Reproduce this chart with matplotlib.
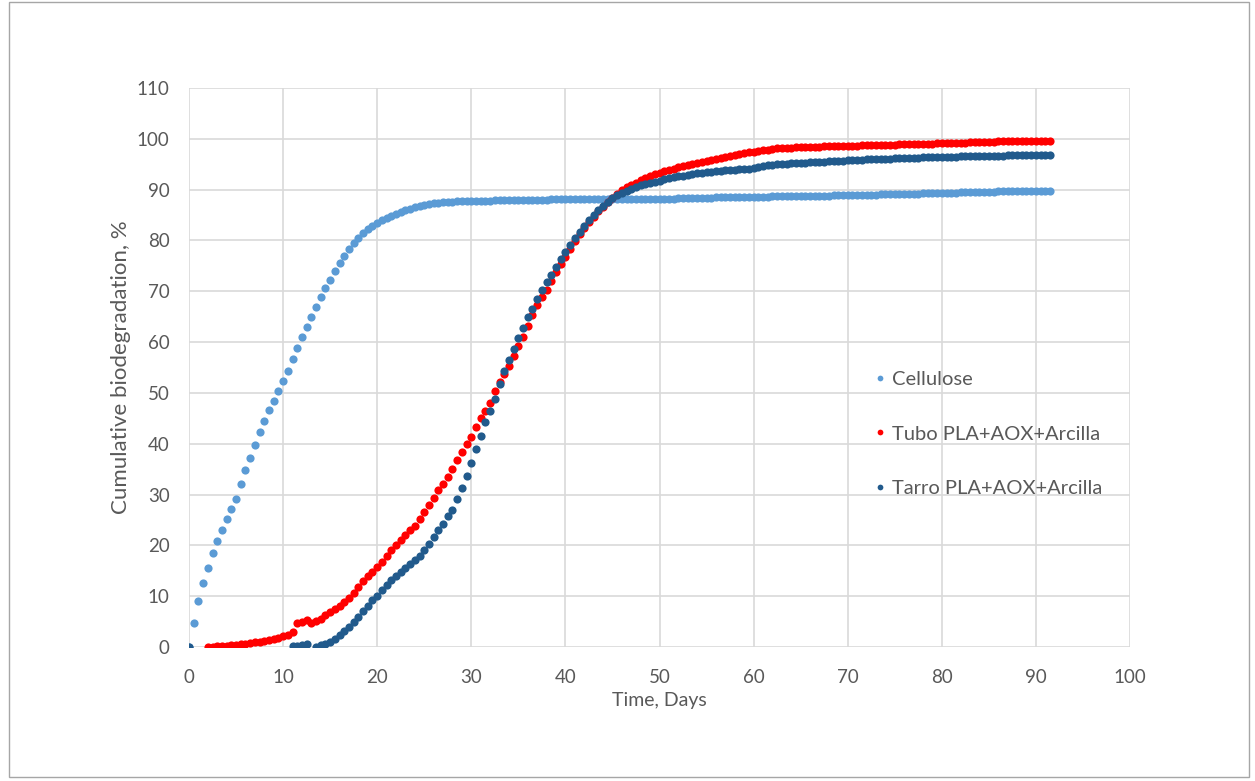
import numpy as np
import matplotlib.pyplot as plt
from matplotlib.patches import Rectangle

plt.rcParams['font.family'] = ['Lato', 'DejaVu Sans']

# readings every half day
cellulose_days = np.arange(0, 92, 0.5)
cellulose = [
    0.0, 4.7, 9.0, 12.6, 15.6, 18.4, 20.8, 23.0, 25.2, 27.2,
    29.2, 32.1, 34.8, 37.2, 39.7, 42.4, 44.5, 46.6, 48.4, 50.3,
    52.4, 54.4, 56.7, 58.9, 61.0, 63.0, 64.9, 66.9, 68.8, 70.6,
    72.2, 74.0, 75.5, 77.0, 78.3, 79.5, 80.5, 81.4, 82.2, 82.9,
    83.5, 84.0, 84.5, 84.9, 85.3, 85.6, 85.9, 86.2, 86.5, 86.7,
    86.9, 87.1, 87.3, 87.4, 87.5, 87.6, 87.6, 87.7, 87.7, 87.7,
    87.7, 87.8, 87.8, 87.8, 87.8, 87.9, 87.9, 87.9, 87.9, 88.0,
    88.0, 88.0, 88.0, 88.0, 88.0, 88.0, 88.0, 88.1, 88.1, 88.1,
    88.1, 88.1, 88.1, 88.1, 88.1, 88.1, 88.1, 88.1, 88.1, 88.1,
    88.1, 88.1, 88.1, 88.1, 88.1, 88.1, 88.1, 88.1, 88.2, 88.2,
    88.2, 88.2, 88.2, 88.2, 88.3, 88.3, 88.3, 88.3, 88.4, 88.4,
    88.4, 88.4, 88.5, 88.5, 88.5, 88.5, 88.5, 88.5, 88.6, 88.6,
    88.6, 88.6, 88.6, 88.6, 88.7, 88.7, 88.7, 88.7, 88.7, 88.7,
    88.7, 88.8, 88.8, 88.8, 88.8, 88.8, 88.8, 88.9, 88.9, 88.9,
    88.9, 88.9, 89.0, 89.0, 89.0, 89.0, 89.0, 89.1, 89.1, 89.1,
    89.1, 89.1, 89.2, 89.2, 89.2, 89.2, 89.3, 89.3, 89.3, 89.3,
    89.4, 89.4, 89.4, 89.4, 89.5, 89.5, 89.5, 89.5, 89.6, 89.6,
    89.6, 89.6, 89.7, 89.7, 89.7, 89.7, 89.8, 89.8, 89.8, 89.8,
    89.8, 89.8, 89.8, 89.8,
]

tubo_days = np.arange(2, 92, 0.5)
tubo = [
    0.0, 0.05, 0.1, 0.15, 0.2, 0.3, 0.4, 0.5, 0.6, 0.75,
    0.9, 1.05, 1.2, 1.4, 1.6, 1.85, 2.1, 2.4, 2.9, 4.7,
    4.9, 5.4, 4.7, 5.1, 5.6, 6.2, 6.8, 7.4, 8.1, 8.9,
    9.7, 10.7, 11.8, 12.9, 13.9, 14.8, 15.8, 16.8, 17.9, 19.0,
    20.0, 21.1, 22.1, 23.0, 23.9, 25.2, 26.5, 27.9, 29.3, 30.8,
    32.0, 33.5, 35.1, 36.7, 38.4, 40.0, 41.4, 43.2, 45.0, 46.5,
    48.1, 50.3, 52.2, 53.8, 55.3, 57.2, 59.2, 61.0, 63.1, 65.3,
    67.3, 68.8, 70.2, 72.0, 73.8, 75.3, 76.8, 78.3, 79.8, 81.2,
    82.4, 83.6, 84.7, 85.7, 86.6, 87.5, 88.4, 89.2, 89.9, 90.5,
    91.0, 91.4, 91.9, 92.3, 92.7, 93.0, 93.3, 93.6, 93.9, 94.1,
    94.4, 94.6, 94.8, 95.0, 95.2, 95.4, 95.6, 95.8, 96.0, 96.2,
    96.4, 96.6, 96.8, 97.0, 97.2, 97.4, 97.5, 97.6, 97.8, 97.9,
    98.0, 98.1, 98.1, 98.2, 98.2, 98.3, 98.3, 98.3, 98.4, 98.4,
    98.4, 98.5, 98.5, 98.5, 98.5, 98.6, 98.6, 98.6, 98.6, 98.7,
    98.7, 98.7, 98.7, 98.8, 98.8, 98.8, 98.8, 98.9, 98.9, 98.9,
    98.9, 99.0, 99.0, 99.0, 99.0, 99.1, 99.1, 99.1, 99.1, 99.2,
    99.2, 99.2, 99.3, 99.3, 99.3, 99.4, 99.4, 99.4, 99.5, 99.5,
    99.5, 99.5, 99.6, 99.6, 99.6, 99.6, 99.6, 99.6, 99.6, 99.6,
]

tarro_days = np.concatenate([[0.0, 11.0, 11.5, 12.0, 12.5], np.arange(13.5, 92, 0.5)])
tarro = [
    0.0, 0.1, 0.2, 0.3, 0.5,
    0.0, 0.3, 0.6, 1.0, 1.6, 2.4, 3.2, 4.0, 4.9, 5.9,
    7.0, 8.1, 9.2, 10.1, 11.2, 12.2, 13.1, 14.0, 14.8, 15.5,
    16.3, 17.1, 18.0, 19.0, 20.3, 21.6, 23.0, 24.3, 25.7, 27.0,
    29.1, 31.3, 33.7, 36.2, 38.9, 41.6, 44.2, 46.5, 48.8, 51.8,
    54.3, 56.4, 58.6, 60.8, 62.8, 64.9, 66.6, 68.5, 70.3, 71.8,
    73.2, 74.8, 76.4, 77.8, 79.1, 80.5, 81.7, 82.9, 84.0, 85.0,
    85.9, 86.8, 87.6, 88.3, 88.9, 89.4, 89.8, 90.2, 90.5, 90.9,
    91.2, 91.4, 91.6, 91.8, 92.0, 92.2, 92.4, 92.6, 92.7, 92.9,
    93.0, 93.2, 93.3, 93.4, 93.5, 93.6, 93.7, 93.8, 93.9, 93.9,
    94.0, 94.0, 94.1, 94.2, 94.4, 94.6, 94.8, 94.9, 95.0, 95.1,
    95.1, 95.2, 95.2, 95.3, 95.3, 95.4, 95.4, 95.5, 95.5, 95.6,
    95.6, 95.7, 95.7, 95.8, 95.8, 95.9, 95.9, 96.0, 96.0, 96.0,
    96.1, 96.1, 96.1, 96.2, 96.2, 96.2, 96.3, 96.3, 96.3, 96.4,
    96.4, 96.4, 96.4, 96.5, 96.5, 96.5, 96.5, 96.6, 96.6, 96.6,
    96.6, 96.6, 96.7, 96.7, 96.7, 96.7, 96.7, 96.8, 96.8, 96.8,
    96.8, 96.8, 96.8, 96.8, 96.9, 96.9, 96.9,
]

fig = plt.figure(figsize=(12.55, 7.81), dpi=100)
ax = fig.add_axes([0.1506, 0.1716, 0.7498, 0.7157])

ms = 5.9
ax.plot(cellulose_days, cellulose, 'o', color='#5B9BD5', ms=ms, mew=0, label='Cellulose')
ax.plot(tubo_days, tubo, 'o', color='#FF0000', ms=ms, mew=0, label='Tubo PLA+AOX+Arcilla')
ax.plot(tarro_days, tarro, 'o', color='#215A8C', ms=ms, mew=0, label='Tarro PLA+AOX+Arcilla')

ax.set_xlim(0, 100)
ax.set_ylim(0, 110)
ax.set_xticks(range(0, 101, 10))
ax.set_yticks(range(0, 111, 10))
ax.grid(True, color='#D9D9D9', linewidth=1.2)
ax.set_axisbelow(True)
for s in ax.spines.values():
    s.set_visible(False)
ax.tick_params(length=0, labelsize=13.5, labelcolor='#595959')
ax.tick_params(axis='x', pad=16)
ax.tick_params(axis='y', pad=14)

ax.set_xlabel('Time, Days', fontsize=14, color='#595959', labelpad=4)
ax.set_ylabel('Cumulative biodegradation, %', fontsize=16, color='#595959', labelpad=4)

leg = ax.legend(loc='upper left', bbox_to_anchor=(0.703, 0.526), frameon=False,
                fontsize=14.5, labelspacing=1.85, handletextpad=0.05, markerscale=0.7,
                handlelength=1.1)
for t in leg.get_texts():
    t.set_color('#595959')

# thin border round the whole picture
fig.patches.append(Rectangle((0.007, 0.005), 0.988, 0.992, transform=fig.transFigure,
                             fill=False, edgecolor='#A6A6A6', linewidth=1))

fig.savefig('out.png', dpi=100)
